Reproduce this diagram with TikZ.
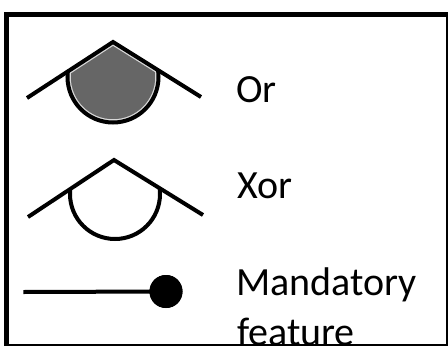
\documentclass[tikz,border=0pt]{standalone}
\usepackage{fontspec}
\setmainfont{Carlito}
\definecolor{orfill}{HTML}{666666}
\definecolor{orrim}{HTML}{D8D8D8}
\begin{document}
\begin{tikzpicture}[x=1pt,y=-1pt,
  sym/.style={line width=4pt, line cap=butt, line join=miter},
  rim/.style={draw=orrim, line width=6.5pt},
  lbl/.style={anchor=base west, inner sep=0pt, text=black, font=\fontsize{40}{48}\selectfont},
  frame/.style={line width=5pt}]
\useasboundingbox (0,0) rectangle (448,346);
\fill[white] (0,0) rectangle (448,346);

% Or symbol
\begin{scope}[shift={(113,77)}]
  \coordinate (orL) at (-86,21);
  \coordinate (orA) at (0,-35);
  \coordinate (orR) at (88,20);
  \begin{scope}
    \clip (0,-35) -- (-172,77) -- (-172,200) -- (176,200) -- (176,75) -- cycle;
    \clip (0,0) circle (45.5);
    \fill[orfill] (0,0) circle (45.5);
    \draw[rim] (0,0) circle (45.5);
    \draw[rim] (orL) -- (orA) -- (orR);
  \end{scope}
  \begin{scope}
    \clip (0,-35) -- (-172,77) -- (-172,200) -- (176,200) -- (176,75) -- cycle;
    \draw[sym] (0,0) circle (45.5);
  \end{scope}
  \draw[sym] (orL) -- (orA) -- (orR);
\end{scope}

% Xor symbol
\begin{scope}[shift={(115,194)}]
  \coordinate (xoL) at (-87,23);
  \coordinate (xoA) at (-1,-34);
  \coordinate (xoR) at (88,21);
  \begin{scope}
    \clip (-1,-34) -- (-173,80) -- (-173,200) -- (177,200) -- (177,76) -- cycle;
    \draw[sym] (0,0) circle (45);
  \end{scope}
  \draw[sym] (xoL) -- (xoA) -- (xoR);
\end{scope}

% Mandatory symbol
\coordinate (mstart) at (23.3,292);
\node[circle, fill=black, inner sep=0pt, minimum size=33pt] (dot) at (166,291.5) {};
\draw[line width=4pt] (mstart) -- (dot.center);
\fill[black] (dot.center) circle (16.5);

% Labels
\node[lbl] (or) at (236,102) {Or};
\node[lbl] (xor) at (237,198) {Xor};
\node[lbl] (mand) at (236,295) {Mandatory};
\node[lbl] (feat) at (237,345) {feature};

% Frame (drawn over the text, as in the reference)
\draw[frame] (6.5,14.5) rectangle (448,346.5);
\end{tikzpicture}
\end{document}
